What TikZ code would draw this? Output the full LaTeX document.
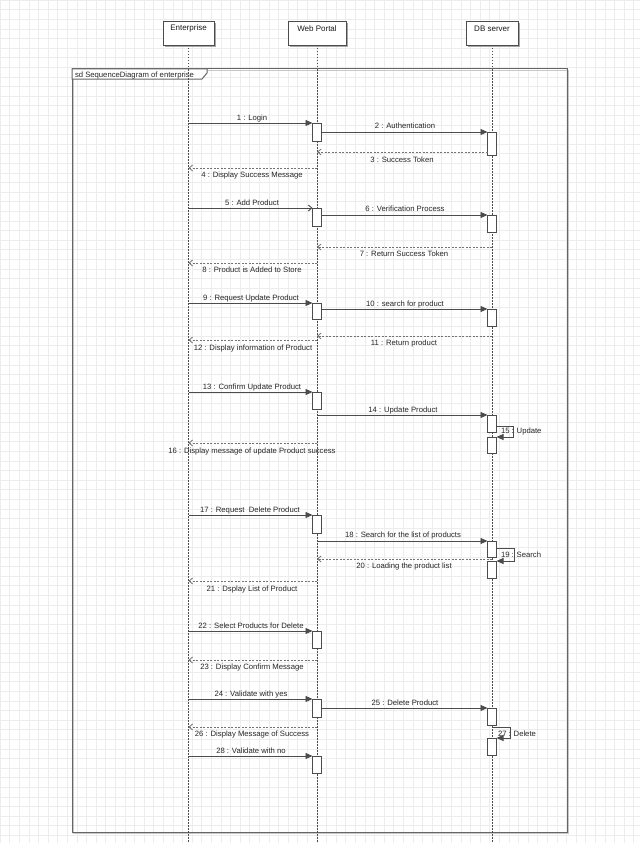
\documentclass[tikz,border=0pt]{standalone}
\usepackage{fontspec}
\setmainfont{Liberation Sans}
\usetikzlibrary{arrows.meta}
\begin{document}
\begin{tikzpicture}[x=1pt,y=-1pt,
  every node/.style={inner sep=0pt, outer sep=0pt},
  gridl/.style={draw=black!7, line width=0.5pt},
  headbox/.style={draw=black!70, fill=white, line width=0.9pt, minimum height=24pt},
  headshadow/.style={fill=black!35},
  act/.style={draw=black!70, fill=white, line width=0.9pt, minimum width=9pt, anchor=north},
  life/.style={draw=black!70, line width=0.6pt, dash pattern=on 1.5pt off 1.5pt},
  syncmsg/.style={draw=black!70, line width=0.9pt, -{Triangle[length=7pt,width=6pt]}},
  openmsg/.style={draw=black!70, line width=0.9pt, -{Straight Barb[length=3.5pt,width=6pt]}},
  retmsg/.style={draw=black!55, line width=0.8pt, dash pattern=on 2pt off 1.5pt, -{Straight Barb[length=3.5pt,width=6pt]}},
  lbl/.style={font=\fontsize{7.7}{9}\selectfont, text=black!85, yshift=-1.2pt},
  hlbl/.style={font=\fontsize{8}{9}\selectfont, text=black!90},
  framebox/.style={draw=black!60, line width=1pt},
]
\useasboundingbox (0,0) rectangle (640,843);
\fill[white] (0,0) rectangle (640,843);
% grid
\foreach \i in {0,...,66} \draw[gridl] (\i*9.6,0) -- (\i*9.6,843);
\foreach \j in {0,...,87} \draw[gridl] (0,\j*9.6) -- (640,\j*9.6);

% frame
\draw[draw=black!22, line width=1pt] (73.5,70.5) rectangle (568.5,833.5);
\draw[framebox] (72,69) rectangle (567,832);
\draw[framebox, fill=white] (72,69) -- (207,69) -- (207,73) -- (202,79) -- (72,79) -- cycle;
\node[lbl, anchor=west] (frameT) at (75,74) {sd SequenceDiagram of enterprise};

% header shadows
\fill[headshadow] (165,23) rectangle (216,47);
\fill[headshadow] (290,23) rectangle (348,47);
\fill[headshadow] (468,23) rectangle (520,47);
% headers
\node[headbox, minimum width=51pt] (ent) at (188.5,33) {};
\node[headbox, minimum width=58pt] (web) at (317,33) {};
\node[headbox, minimum width=52pt] (db) at (492,33) {};
\node[hlbl] (entT) at (188.5,28.5) {Enterprise};
\node[hlbl] (webT) at (317,28.5) {Web Portal};
\node[hlbl] (dbT) at (492,28.5) {DB server};

% lifelines
\coordinate (entB) at (188.5,843);
\coordinate (webB) at (317,843);
\coordinate (dbB) at (492,843);
\draw[life] (ent.south) -- (entB);
\draw[life] (web.south) -- (webB);
\draw[life] (db.south) -- (dbB);

% activations - web portal
\node[act, minimum height=18pt] (aw1) at (317,123) {};
\node[act, minimum height=18pt] (aw5) at (317,208) {};
\node[act, minimum height=16pt] (aw9) at (317,303) {};
\node[act, minimum height=17pt] (aw13) at (317,392) {};
\node[act, minimum height=18pt] (aw17) at (317,515) {};
\node[act, minimum height=17pt] (aw22) at (317,631) {};
\node[act, minimum height=18pt] (aw24) at (317,699) {};
\node[act, minimum height=17pt] (aw28) at (317,756) {};
% activations - DB server
\node[act, minimum height=23pt] (ad2) at (492,132) {};
\node[act, minimum height=17pt] (ad6) at (492,215) {};
\node[act, minimum height=17pt] (ad10) at (492,309) {};
\node[act, minimum height=17pt] (ad14a) at (492,415) {};
\node[act, minimum height=16pt] (ad14b) at (492,437) {};
\node[act, minimum height=16pt] (ad18a) at (492,541) {};
\node[act, minimum height=17pt] (ad18b) at (492,561) {};
\node[act, minimum height=17pt] (ad25) at (492,708) {};
\node[act, minimum height=17pt] (ad27) at (492,738) {};

% 1
\draw[syncmsg] (ent.south |- aw1.north) -- (aw1.north west);
\node[lbl] (l1) at (252,117) {1 : Login};
% 2
\draw[syncmsg] (aw1.east |- ad2.north) -- (ad2.north west);
\node[lbl] (l2) at (405,125) {2 : Authentication};
% 3
\coordinate (r3) at (487.5,152);
\draw[retmsg] (r3) -- (web.south |- r3);
\node[lbl] (l3) at (402,159) {3 : Success Token};
% 4
\coordinate (r4) at (317,168);
\draw[retmsg] (r4) -- (ent.south |- r4);
\node[lbl] (l4) at (252,174) {4 : Display Success Message};
% 5
\draw[openmsg] (ent.south |- aw5.north) -- (aw5.north west);
\node[lbl] (l5) at (252,202) {5 : Add Product};
% 6
\draw[syncmsg] (aw5.east |- ad6.north) -- (ad6.north west);
\node[lbl] (l6) at (405,208) {6 : Verification Process};
% 7
\coordinate (r7) at (492,247);
\draw[retmsg] (r7) -- (web.south |- r7);
\node[lbl] (l7) at (404,253) {7 : Return Success Token};
% 8
\coordinate (r8) at (317,263);
\draw[retmsg] (r8) -- (ent.south |- r8);
\node[lbl] (l8) at (252,269) {8 : Product is Added to Store};
% 9
\draw[syncmsg] (ent.south |- aw9.north) -- (aw9.north west);
\node[lbl] (l9) at (251,297) {9 : Request Update Product};
% 10
\draw[syncmsg] (aw9.east |- ad10.north) -- (ad10.north west);
\node[lbl] (l10) at (405,303) {10 : search for product};
% 11
\coordinate (r11) at (492,336);
\draw[retmsg] (r11) -- (web.south |- r11);
\node[lbl] (l11) at (404,342) {11 : Return product};
% 12
\coordinate (r12) at (317,340);
\draw[retmsg] (r12) -- (ent.south |- r12);
\node[lbl] (l12) at (253,347) {12 : Display information of Product};
% 13
\draw[syncmsg] (ent.south |- aw13.north) -- (aw13.north west);
\node[lbl] (l13) at (252,386) {13 : Confirm Update Product};
% 14
\draw[syncmsg] (web.south |- ad14a.north) -- (ad14a.north west);
\node[lbl] (l14) at (403,409) {14 : Update Product};
% 15
\coordinate (s15) at (513,426);
\draw[syncmsg] (ad14a.east |- s15) -- (s15) -- (s15 |- ad14b.north) -- (ad14b.north east);
\node[lbl, anchor=west] (l15) at (501,430) {15 : Update};
% 16
\coordinate (r16) at (317,443);
\draw[retmsg] (r16) -- (ent.south |- r16);
\node[lbl] (l16) at (252,450) {16 : Display message of update Product success};
% 17
\draw[syncmsg] (ent.south |- aw17.north) -- (aw17.north west);
\node[lbl] (l17) at (250,509) {17 : Request\ \ Delete Product};
% 18
\draw[syncmsg] (web.south |- ad18a.north) -- (ad18a.north west);
\node[lbl] (l18) at (403,534) {18 : Search for the list of products};
% 19
\coordinate (s19) at (514,548);
\draw[syncmsg] (ad18a.east |- s19) -- (s19) -- (s19 |- ad18b.north) -- (ad18b.north east);
\node[lbl, anchor=west] (l19) at (501,554) {19 : Search};
% 20
\coordinate (r20) at (492,559);
\draw[retmsg] (r20) -- (web.south |- r20);
\node[lbl] (l20) at (404,565) {20 : Loading the product list};
% 21
\coordinate (r21) at (317,581);
\draw[retmsg] (r21) -- (ent.south |- r21);
\node[lbl] (l21) at (252,588) {21 : Dsplay List of Product};
% 22
\draw[syncmsg] (ent.south |- aw22.north) -- (aw22.north west);
\node[lbl] (l22) at (251,625) {22 : Select Products for Delete};
% 23
\coordinate (r23) at (317,660);
\draw[retmsg] (r23) -- (ent.south |- r23);
\node[lbl] (l23) at (252,666) {23 : Display Confirm Message};
% 24
\draw[syncmsg] (ent.south |- aw24.north) -- (aw24.north west);
\node[lbl] (l24) at (251,693) {24 : Validate with yes};
% 25
\draw[syncmsg] (aw24.east |- ad25.north) -- (ad25.north west);
\node[lbl] (l25) at (405,702) {25 : Delete Product};
% 26
\coordinate (r26) at (317,727);
\draw[retmsg] (r26) -- (ent.south |- r26);
\node[lbl] (l26) at (252,733) {26 : Display Message of Success};
% 27
\coordinate (s27a) at (492,727);
\coordinate (s27) at (510,727);
\draw[syncmsg] (s27a) -- (s27) -- (s27 |- ad27.north) -- (ad27.north east);
\node[lbl, anchor=west] (l27) at (498,733) {27 : Delete};
% 28
\draw[syncmsg] (ent.south |- aw28.north) -- (aw28.north west);
\node[lbl] (l28) at (251,750) {28 : Validate with no};
\end{tikzpicture}
\end{document}
